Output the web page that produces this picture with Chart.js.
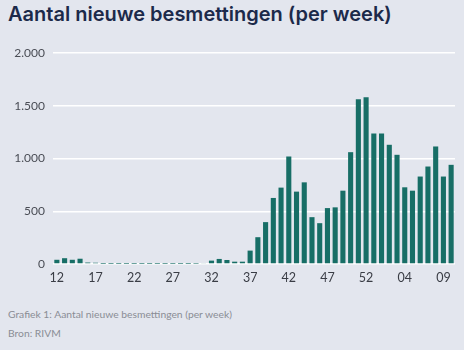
<!DOCTYPE html>
<html>
<head>
<meta charset="utf-8">
<script src="https://cdn.jsdelivr.net/npm/chart.js@4.4.1/dist/chart.umd.min.js"></script>
<style>
  html, body { margin:0; padding:0; background:#e3e6ee; width:464px; height:350px; overflow:hidden; }
  #title { position:absolute; left:8px; top:2px; font-family:Inter, "Open Sans", sans-serif; font-weight:600; font-size:20px; color:#1c2a4a; white-space:nowrap; }
  #wrap { position:absolute; left:0; top:0; width:464px; height:290px; }
  .cap { position:absolute; left:8px; font-family:Lato, "Open Sans", sans-serif; font-size:10.3px; color:#8a8d95; white-space:nowrap; }
</style>
</head>
<body>
<div id="title">Aantal nieuwe besmettingen (per week)</div>
<div id="wrap"><canvas id="c"></canvas></div>
<div class="cap" style="top:308px">Grafiek 1: Aantal nieuwe besmettingen (per week)</div>
<div class="cap" style="top:327px">Bron: RIVM</div>
<script>
const weeks = ['12','13','14','15','16','17','18','19','20','21','22','23','24','25','26','27','28','29','30','31','32','33','34','35','36','37','38','39','40','41','42','43','44','45','46','47','48','49','50','51','52','53','01','02','03','04','05','06','07','08','09','10'];
const infections = [40,55,40,50,14,12,1,1,1,1,1,1,1,1,1,1,1,1,2,8,32,48,38,22,22,127,254,397,626,724,1019,686,774,444,387,530,537,695,1060,1562,1581,1238,1238,1130,1035,727,695,829,924,1114,829,940];
const yTicks = [0,500,1000,1500,2000];

new Chart(document.getElementById('c'), {
  type: 'bar',
  data: {
    labels: weeks,
    datasets: [{ data: infections, backgroundColor: '#176e66', categoryPercentage: 1, barPercentage: 0.66 }]
  },
  options: {
    responsive: true,
    maintainAspectRatio: false,
    animation: false,
    layout: { padding: { top: 53, right: 9, left: 0, bottom: 0 } },
    plugins: { legend: { display: false }, tooltip: { enabled: false } },
    scales: {
      x: {
        afterFit: function(ax) { ax.height = 26; },
        grid: { display: false, drawTicks: false },
        border: { display: false },
        ticks: {
          autoSkip: false, maxRotation: 0, padding: 6,
          color: '#3a3d45', font: { family: 'Lato, "Open Sans", sans-serif', size: 12.5 },
          callback: function(v, i) { return i % 5 === 0 ? weeks[i] : ''; }
        }
      },
      y: {
        min: 0, max: 2000,
        afterBuildTicks: function(ax) { ax.ticks = yTicks.map(v => ({ value: v })); },
        afterFit: function(ax) { ax.width = 53; },
        grid: { color: '#ffffff', lineWidth: 1.5, drawTicks: false },
        border: { display: false },
        ticks: {
          padding: 8, color: '#4a4d55', font: { family: 'Lato, "Open Sans", sans-serif', size: 12 },
          callback: function(v) { return v.toLocaleString('nl-NL'); }
        }
      }
    }
  }
});
</script>
</body>
</html>
